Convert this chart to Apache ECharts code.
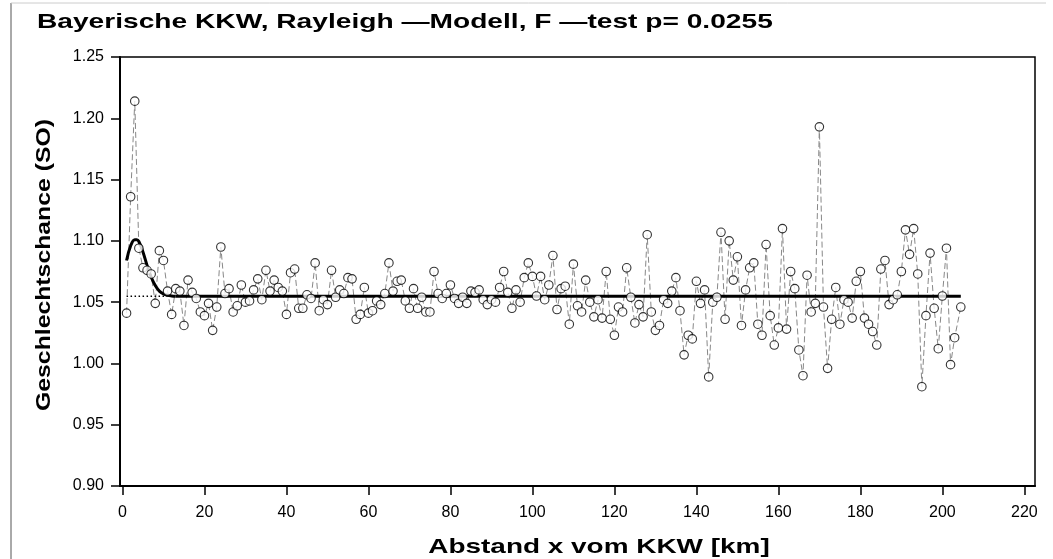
<!DOCTYPE html>
<html>
<head>
<meta charset="utf-8">
<script src="https://cdn.jsdelivr.net/npm/echarts@6/dist/echarts.min.js"></script>
<style>html,body{margin:0;padding:0;background:#fff}#c{width:1053px;height:559px}</style>
</head>
<body>
<div id="c"></div>
<script>
// distance from the plant (km)
const KM = [];
for (let k = 1; k <= 203; k++) KM.push(k);
KM.push(204.5);
// observed sex odds (SO)
const SO = [
1.041,1.136,1.214,1.094,1.078,1.076,1.073,1.049,1.092,1.084,
1.059,1.040,1.061,1.059,1.031,1.068,1.058,1.053,1.042,1.039,
1.049,1.027,1.046,1.095,1.057,1.061,1.042,1.047,1.064,1.050,
1.051,1.060,1.069,1.052,1.076,1.059,1.068,1.062,1.059,1.040,
1.074,1.077,1.045,1.045,1.056,1.053,1.082,1.043,1.052,1.048,
1.076,1.054,1.060,1.057,1.070,1.069,1.036,1.040,1.062,1.041,
1.043,1.051,1.048,1.057,1.082,1.059,1.067,1.068,1.051,1.045,
1.061,1.045,1.054,1.042,1.042,1.075,1.057,1.053,1.057,1.064,
1.053,1.049,1.054,1.049,1.059,1.058,1.060,1.052,1.048,1.052,
1.050,1.062,1.075,1.058,1.045,1.060,1.050,1.070,1.082,1.071,
1.055,1.071,1.052,1.064,1.088,1.044,1.061,1.063,1.032,1.081,
1.047,1.042,1.068,1.050,1.038,1.052,1.037,1.075,1.036,1.023,
1.046,1.042,1.078,1.054,1.033,1.048,1.038,1.105,1.042,1.027,
1.031,1.052,1.049,1.059,1.070,1.043,1.007,1.023,1.020,1.067,
1.049,1.060,0.989,1.050,1.054,1.107,1.036,1.100,1.068,1.087,
1.031,1.060,1.078,1.082,1.032,1.023,1.097,1.039,1.015,1.029,
1.110,1.028,1.075,1.061,1.011,0.990,1.072,1.042,1.049,1.193,
1.046,0.996,1.036,1.062,1.032,1.052,1.050,1.037,1.067,1.075,
1.037,1.032,1.026,1.015,1.077,1.084,1.048,1.052,1.056,1.075,
1.109,1.089,1.110,1.073,0.981,1.039,1.090,1.045,1.012,1.055,
1.094,0.999,1.021,1.046
];
// fitted Rayleigh model curve
const FIT_X = [1, 2, 3, 3.5, 4, 5, 6, 7, 8, 9, 10, 11, 12, 13];
const FIT_Y = [1.084, 1.096, 1.101, 1.101, 1.0995, 1.091, 1.080, 1.0705, 1.0635, 1.059, 1.0567, 1.0556, 1.0551, 1.0548];
const BASE_X = [13, 204.5];
const BASE_Y = [1.0548, 1.0548];
const REF_X = [1, 11];
const REF_Y = [1.0548, 1.0548];
const X_TICKS = [0, 20, 40, 60, 80, 100, 120, 140, 160, 180, 200, 220];

const TITLE = 'Bayerische KKW, Rayleigh \u2014Modell, F \u2014test p= 0.0255';
const X_NAME = 'Abstand x vom KKW [km]';
const Y_NAME = 'Geschlechtschance (SO)';

const zip = (a, b) => a.map((v, i) => [v, b[i]]);
const pts = zip(KM, SO);
const FONT = '"Liberation Sans", Arial, sans-serif';

const chart = echarts.init(document.getElementById('c'), null, {renderer: 'canvas'});
chart.setOption({
  backgroundColor: '#fff',
  animation: false,
  grid: {left: 120, right: 18, top: 57, bottom: 73, show: true, borderColor: '#000', borderWidth: 1.5, containLabel: false},
  xAxis: {
    type: 'value', min: -0.6, max: 222.6,
    axisLine: {show: true, onZero: false, lineStyle: {color: '#000', width: 2}},
    axisTick: {show: true, length: 9, lineStyle: {color: '#000', width: 1.5}, customValues: X_TICKS},
    axisLabel: {color: '#000', fontFamily: FONT, fontSize: 16, margin: 19, customValues: X_TICKS},
    splitLine: {show: false}
  },
  yAxis: {
    type: 'value', min: 0.9, max: 1.25, interval: 0.05,
    axisLine: {show: true, onZero: false, lineStyle: {color: '#000', width: 2}},
    axisTick: {show: true, length: 9, lineStyle: {color: '#000', width: 1.5}},
    axisLabel: {color: '#000', fontFamily: FONT, fontSize: 16, margin: 16, formatter: v => v.toFixed(2), showMinLabel: true, showMaxLabel: true},
    splitLine: {show: false}
  },
  series: [
    {type: 'line', data: pts, symbol: 'none', z: 2,
     lineStyle: {color: '#888', width: 1, type: [6, 3]}},
    {type: 'line', data: zip(REF_X, REF_Y), symbol: 'none', z: 3,
     lineStyle: {color: '#000', width: 1.5, type: [1.5, 2.5]}},
    {type: 'line', data: zip(FIT_X, FIT_Y), symbol: 'none', smooth: 0.4, z: 4,
     lineStyle: {color: '#000', width: 3}},
    {type: 'line', data: zip(BASE_X, BASE_Y), symbol: 'none', z: 4,
     lineStyle: {color: '#000', width: 3}},
    {type: 'scatter', data: pts, symbol: 'circle', symbolSize: 8.5, z: 5,
     itemStyle: {color: '#fff', borderColor: '#000', borderWidth: 1.1}}
  ],
  graphic: [
    {type: 'line', shape: {x1: 11, y1: 3, x2: 11, y2: 559}, style: {stroke: '#555', lineWidth: 1}},
    {type: 'line', shape: {x1: 11, y1: 3, x2: 1046, y2: 3}, style: {stroke: '#ccc', lineWidth: 1}},
    {type: 'text', x: 37, y: 22, scaleX: 1.34,
     style: {text: TITLE, fill: '#000', font: 'bold 21px ' + FONT, textAlign: 'left', textVerticalAlign: 'middle'}},
    {type: 'text', x: 599, y: 547, scaleX: 1.33,
     style: {text: X_NAME, fill: '#000', font: 'bold 21px ' + FONT, textAlign: 'center', textVerticalAlign: 'middle'}},
    {type: 'text', x: 44, y: 265, rotation: Math.PI / 2, scaleX: 1.18,
     style: {text: Y_NAME, fill: '#000', font: 'bold 21px ' + FONT, textAlign: 'center', textVerticalAlign: 'middle'}}
  ]
});
</script>
</body>
</html>
